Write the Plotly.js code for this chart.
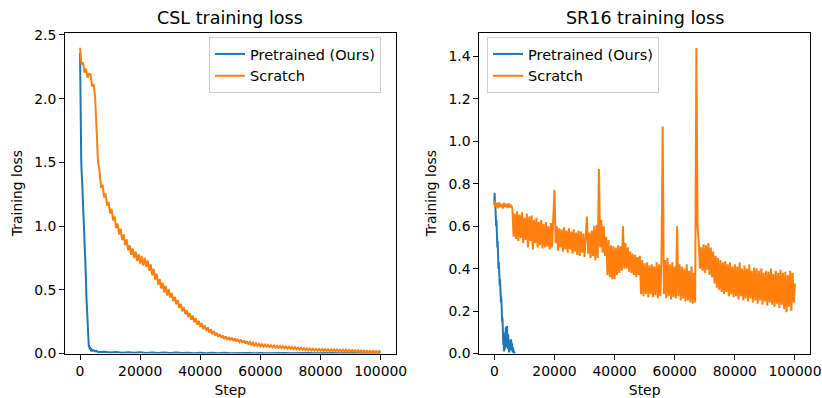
<!DOCTYPE html>
<html><head><meta charset="utf-8">
<script src="https://cdn.plot.ly/plotly-3.0.1.min.js"></script>
<style>html,body{margin:0;padding:0;background:#fff;} #chart{width:822px;height:398px;}</style>
</head><body><div id="chart"></div>
<script>
// ---------- tick labels ----------
const stepTicks = [0, 20000, 40000, 60000, 80000, 100000];
const stepTickText = ['0', '20000', '40000', '60000', '80000', '100000'];
const cslLossTicks = [0, 0.5, 1.0, 1.5, 2.0, 2.5];
const cslLossTickText = ['0.0', '0.5', '1.0', '1.5', '2.0', '2.5'];
const srLossTicks = [0, 0.2, 0.4, 0.6, 0.8, 1.0, 1.2, 1.4];
const srLossTickText = ['0.0', '0.2', '0.4', '0.6', '0.8', '1.0', '1.2', '1.4'];

const seriesNames = ['Pretrained (Ours)', 'Scratch'];
const panelTitles = ['CSL training loss', 'SR16 training loss'];

// ---------- CSL: pretrained ----------
const cslPretrainedSteps = [0,100,200,300,400,500,600,700,800,900,1000,1100,1200,1300,1400,1500,1600,1700,1800,1900,2000,2100,2200,2300,2400,2500,2600,2700,2800,2900,3000,3200,3400,3600,3800,4000,4500,5000,5500,6000,
  8000,10000,12000,14000,16000,18000,20000,22000,24000,26000,28000,30000,32000,34000,36000,38000,40000,42000,44000,46000,48000,50000,52000,54000,56000,58000,60000,
  62000,64000,66000,68000,70000,72000,74000,76000,78000,80000,82000,84000,86000,88000,90000,92000,94000,96000,98000,100000];
const cslPretrainedLoss = [2.36,1.95,1.60,1.55,1.52,1.44,1.41,1.33,1.30,1.22,1.18,1.10,1.06,0.98,0.94,0.87,0.83,0.75,0.71,0.63,0.57,0.46,0.40,0.29,0.23,0.16,0.135,0.095,0.085,0.06,0.06,0.04,0.042,0.028,0.032,0.022,0.026,0.016,0.02,0.012,
  0.014,0.008,0.012,0.006,0.010,0.005,0.009,0.004,0.008,0.004,0.007,0.003,0.007,0.003,0.006,0.002,0.006,0.002,0.005,0.002,0.005,0.002,0.004,0.001,0.004,0.001,0.004,
  0.001,0.003,0.001,0.003,0.001,0.003,0.001,0.003,0.001,0.003,0.001,0.003,0.001,0.003,0.001,0.003,0.001,0.003,0.001,0.002];

// ---------- CSL: scratch (logged every 500 steps) ----------
const cslScratchLogEvery = 500;
const cslScratchLoss = [
  2.40,2.27,2.285,2.205,2.235,2.165,2.195,2.19,2.095,2.115,
  2.02,1.70,1.50,1.43,1.30,1.325,1.225,1.255,1.16,1.19,
  1.10,1.135,1.045,1.075,0.985,1.02,0.935,0.98,0.89,0.935,
  0.85,0.895,0.81,0.85,0.775,0.825,0.75,0.80,0.725,0.78,
  0.705,0.765,0.69,0.75,0.68,0.73,0.65,0.70,0.615,0.665,
  0.58,0.625,0.54,0.585,0.51,0.555,0.48,0.53,0.455,0.505,
  0.438,0.475,0.41,0.445,0.387,0.42,0.357,0.39,0.332,0.365,
  0.31,0.34,0.285,0.317,0.265,0.297,0.245,0.277,0.225,0.256,
  0.208,0.238,0.192,0.22,0.178,0.205,0.165,0.19,0.152,0.176,
  0.141,0.163,0.131,0.152,0.122,0.142,0.115,0.134,0.109,0.128,
  0.104,0.124,0.099,0.118,0.094,0.113,0.09,0.108,0.084,0.102,
  0.078,0.096,0.072,0.09,0.068,0.085,0.063,0.08,0.059,0.076,
  0.056,0.072,0.055,0.07,0.053,0.067,0.05,0.065,0.048,0.063,
  0.046,0.061,0.044,0.059,0.042,0.057,0.04,0.055,0.038,0.053,
  0.036,0.051,0.034,0.049,0.033,0.047,0.031,0.045,0.029,0.043,
  0.027,0.041,0.025,0.039,0.024,0.037,0.023,0.036,0.022,0.035,
  0.021,0.035,0.02,0.034,0.02,0.033,0.019,0.033,0.018,0.032,
  0.018,0.031,0.017,0.03,0.016,0.03,0.016,0.029,0.015,0.028,
  0.014,0.027,0.014,0.026,0.013,0.025,0.012,0.024,0.011,0.023,
  0.01,0.022,0.009,0.021,0.009,0.02,0.008,0.02,0.007,0.019,
  0.013];

// ---------- SR16: pretrained ----------
const srPretrainedSteps = [0,100,200,300,400,500,600,700,800,900,1000,1100,1200,1300,1400,1500,1600,1700,1800,1900,2000,2100,2200,2300,2400,2500,2600,2700,2800,2900,3000,3100,3200,
  3300,3400,3500,3600,3700,3800,3900,4000,4100,4200,4300,4400,4500,4600,4700,4800,4900,5000,5100,5200,5300,5400,5500,5600,5700,5800,5900,6000,6100,6200,6300,6400,6500,6600,6700,6800];
const srPretrainedLoss = [0.70,0.757,0.70,0.715,0.65,0.68,0.60,0.63,0.54,0.57,0.50,0.53,0.45,0.48,0.40,0.43,0.36,0.39,0.32,0.35,0.27,0.31,0.24,0.27,0.19,0.23,0.15,0.17,0.09,0.11,0.04,0.06,0.01,
  0.02,0.08,0.02,0.10,0.03,0.12,0.04,0.125,0.03,0.13,0.04,0.12,0.02,0.09,0.01,0.05,0.005,0.04,0.01,0.05,0.015,0.06,0.02,0.066,0.015,0.05,0.01,0.04,0.005,0.03,0.0,0.02,0.0,0.01,0.0,0.005];

// ---------- SR16: scratch (logged every 400 steps) ----------
const srScratchLogEvery = 400;
const srScratchLoss = [
  0.72,0.69,0.71,0.685,0.712,0.69,0.705,0.683,0.71,0.69,
  0.705,0.686,0.708,0.688,0.70,0.684,0.55,0.66,0.54,0.67,
  0.53,0.655,0.545,0.665,0.52,0.64,0.535,0.66,0.50,0.645,
  0.53,0.65,0.49,0.63,0.52,0.64,0.50,0.62,0.51,0.63,
  0.495,0.61,0.50,0.62,0.505,0.60,0.49,0.615,0.50,0.605,
  0.77,0.52,0.60,0.485,0.59,0.50,0.585,0.48,0.595,0.49,
  0.58,0.475,0.59,0.49,0.575,0.47,0.585,0.48,0.57,0.465,
  0.58,0.46,0.575,0.475,0.565,0.455,0.58,0.645,0.47,0.57,
  0.45,0.58,0.46,0.60,0.44,0.605,0.45,0.87,0.50,0.63,
  0.475,0.60,0.46,0.55,0.37,0.535,0.36,0.51,0.35,0.505,
  0.35,0.50,0.37,0.51,0.38,0.505,0.39,0.60,0.40,0.52,
  0.40,0.50,0.385,0.48,0.38,0.47,0.37,0.465,0.36,0.455,
  0.37,0.46,0.28,0.44,0.27,0.425,0.28,0.43,0.265,0.415,
  0.28,0.42,0.265,0.41,0.275,0.43,0.26,0.42,0.27,0.44,
  1.07,0.28,0.44,0.26,0.45,0.27,0.42,0.255,0.43,0.265,
  0.41,0.26,0.60,0.27,0.42,0.25,0.41,0.26,0.40,0.245,
  0.42,0.25,0.39,0.24,0.41,0.235,0.38,0.24,1.44,0.60,
  0.52,0.40,0.50,0.39,0.515,0.38,0.51,0.395,0.52,0.37,
  0.50,0.36,0.48,0.33,0.46,0.31,0.45,0.30,0.44,0.29,
  0.43,0.28,0.435,0.29,0.42,0.27,0.43,0.28,0.41,0.265,
  0.42,0.27,0.41,0.255,0.43,0.27,0.40,0.25,0.415,0.26,
  0.40,0.245,0.42,0.26,0.39,0.24,0.405,0.25,0.40,0.235,
  0.39,0.25,0.40,0.23,0.38,0.245,0.39,0.225,0.385,0.24,
  0.40,0.23,0.375,0.22,0.39,0.235,0.38,0.215,0.395,0.23,
  0.38,0.21,0.385,0.195,0.37,0.22,0.39,0.20,0.38,0.24,
  0.33];

const cslScratchSteps = cslScratchLoss.map((_, i) => i * cslScratchLogEvery);
const srScratchSteps = srScratchLoss.map((_, i) => i * srScratchLogEvery);

// ---------- styling ----------
const BLUE = '#1f77b4', ORANGE = '#ff7f0e';
const FONT = 'DejaVu Sans, Liberation Sans, sans-serif';
const W = 822, H = 398;

const traces = [
  {x: cslPretrainedSteps, y: cslPretrainedLoss, name: seriesNames[0], xaxis: 'x', yaxis: 'y', legend: 'legend',
   type: 'scatter', mode: 'lines', line: {color: BLUE, width: 2}},
  {x: cslScratchSteps, y: cslScratchLoss, name: seriesNames[1], xaxis: 'x', yaxis: 'y', legend: 'legend',
   type: 'scatter', mode: 'lines', line: {color: ORANGE, width: 2}},
  {x: srPretrainedSteps, y: srPretrainedLoss, name: seriesNames[0], xaxis: 'x2', yaxis: 'y2', legend: 'legend2',
   type: 'scatter', mode: 'lines', line: {color: BLUE, width: 2}},
  {x: srScratchSteps, y: srScratchLoss, name: seriesNames[1], xaxis: 'x2', yaxis: 'y2', legend: 'legend2',
   type: 'scatter', mode: 'lines', line: {color: ORANGE, width: 2}}
];

const axBase = {showline: true, mirror: true, linecolor: '#000', linewidth: 1,
  ticks: 'outside', ticklen: 5, tickwidth: 1, tickcolor: '#000',
  showgrid: false, zeroline: false, fixedrange: true,
  tickfont: {family: FONT, size: 13.9, color: '#000'}};

const yBot = (H - 353.5) / H, yTop = (H - 32.7) / H;

const legendBase = {bgcolor: 'rgba(255,255,255,0.8)', bordercolor: '#cccccc', borderwidth: 1,
  font: {family: FONT, size: 14.5, color: '#000'}, xanchor: 'left', yanchor: 'top', y: (H - 37) / H,
  tracegroupgap: 0};

const layout = {
  width: W, height: H,
  margin: {l: 0, r: 0, t: 0, b: 0},
  paper_bgcolor: '#fff', plot_bgcolor: '#fff',
  font: {family: FONT, color: '#000'},
  showlegend: true,
  xaxis: Object.assign({}, axBase, {domain: [65 / W, 395.7 / W], range: [-5000, 105000], anchor: 'y',
    tickvals: stepTicks, ticktext: stepTickText, title: {text: 'Step', font: {family: FONT, size: 13.9}, standoff: 7}}),
  yaxis: Object.assign({}, axBase, {domain: [yBot, yTop], range: [0, 2.518], anchor: 'x',
    tickvals: cslLossTicks, ticktext: cslLossTickText, title: {text: 'Training loss', font: {family: FONT, size: 13.9}, standoff: 8}}),
  xaxis2: Object.assign({}, axBase, {domain: [479.3 / W, 810 / W], range: [-5000, 105000], anchor: 'y2',
    tickvals: stepTicks, ticktext: stepTickText, title: {text: 'Step', font: {family: FONT, size: 13.9}, standoff: 7}}),
  yaxis2: Object.assign({}, axBase, {domain: [yBot, yTop], range: [0, 1.512], anchor: 'x2',
    tickvals: srLossTicks, ticktext: srLossTickText, title: {text: 'Training loss', font: {family: FONT, size: 13.9}, standoff: 8}}),
  legend: Object.assign({}, legendBase, {x: 209 / W}),
  legend2: Object.assign({}, legendBase, {x: 487 / W}),
  annotations: [
    {text: panelTitles[0], xref: 'paper', yref: 'paper', x: (65 + 395.7) / 2 / W, y: (H - 18.5) / H,
     xanchor: 'center', yanchor: 'middle', showarrow: false, font: {family: FONT, size: 17.5, color: '#000'}},
    {text: panelTitles[1], xref: 'paper', yref: 'paper', x: (479.3 + 810) / 2 / W, y: (H - 18.5) / H,
     xanchor: 'center', yanchor: 'middle', showarrow: false, font: {family: FONT, size: 17.5, color: '#000'}}
  ]
};

Plotly.newPlot('chart', traces, layout, {displayModeBar: false, staticPlot: true});
</script></body></html>
